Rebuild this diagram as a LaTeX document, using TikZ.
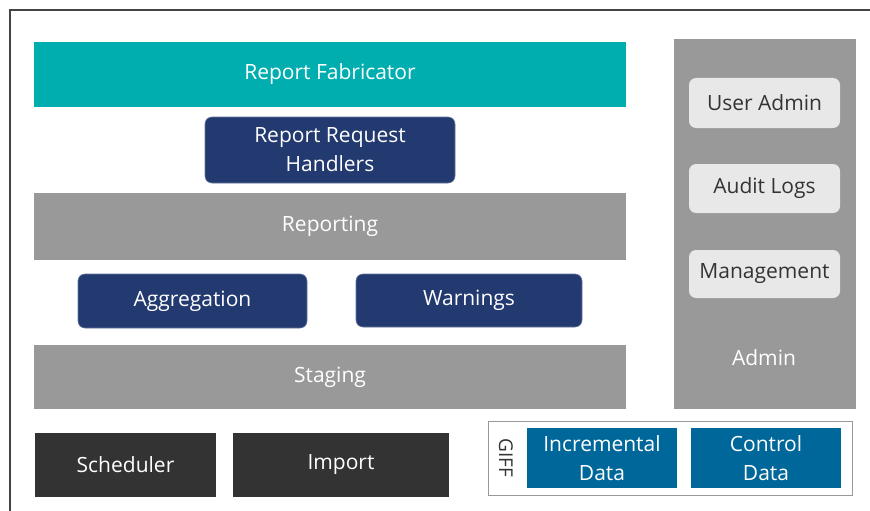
\documentclass[tikz,border=0pt]{standalone}
\usepackage{fontspec}
\setmainfont{Open Sans}
\usetikzlibrary{positioning}

\definecolor{fabteal}{HTML}{00AEB0}
\definecolor{handlerblue}{HTML}{233A70}
\definecolor{layergray}{HTML}{999999}
\definecolor{sysdark}{HTML}{333333}
\definecolor{giffblue}{HTML}{00679A}
\definecolor{adminlight}{HTML}{E8E8E8}
\definecolor{framegray}{HTML}{444444}

\begin{document}
\begin{tikzpicture}[x=1pt,y=-1pt,
  box/.style={inner sep=0pt,outer sep=0pt,align=center,text=white,font=\fontsize{21}{29}\selectfont},
  layer/.style={box,fill=layergray,minimum width=592pt},
  handler/.style={box,fill=handlerblue,rounded corners=7pt,draw=handlerblue!70!white,line width=0.6pt},
  sysbox/.style={box,fill=sysdark,minimum height=64pt},
  giffbox/.style={box,fill=giffblue,minimum width=150pt,minimum height=60pt},
  adminbox/.style={box,fill=adminlight,text=sysdark,rounded corners=7pt,minimum width=151pt}]
  \useasboundingbox (0,0) rectangle (870,511);
  % outer frame, runs off the right and bottom
  \draw[framegray,line width=2pt] (10,530) -- (10,10) -- (890,10);

  % reporting stack
  \node[layer,fill=fabteal,minimum height=65pt] (fab) at (330,74.5) {Report Fabricator};
  \node[handler,minimum width=250pt,minimum height=66pt] (rrh) at (330,150) {Report Request\\Handlers};
  \node[layer,minimum height=67pt] (reporting) at (330,226.5) {Reporting};
  \node[handler,minimum width=229pt,minimum height=54pt] (aggr) at (192.5,301) {Aggregation};
  \node[handler,minimum width=226pt,minimum height=53pt] (warn) at (469,300.5) {Warnings};
  \node[layer,minimum height=64pt] (staging) at (330,377) {Staging};

  % bottom row
  \node[sysbox,minimum width=181pt] (sched) at (125.5,465) {Scheduler};
  \node[sysbox,minimum width=216pt] (import) at (341,465) {Import};
  \node[draw=layergray,line width=1pt,minimum width=364pt,minimum height=74pt] (giff) at (670,458) {};
  \node[font=\fontsize{19}{22}\selectfont,text=sysdark,rotate=-90] (gifflbl) at (506,458) {GIFF};
  \node[giffbox] (incr) at (602,458) {Incremental\\Data};
  \node[giffbox] (ctrl) at (766,458) {Control\\Data};

  % admin column
  \node[box,fill=layergray,minimum width=182pt,minimum height=370pt] (admin) at (765,224) {};
  \node[adminbox,minimum height=50pt] (useradm) at (764.5,103) {User Admin};
  \node[adminbox,minimum height=49pt] (audit) at (764.5,188.5) {Audit Logs};
  \node[adminbox,minimum height=48pt] (mgmt) at (764.5,274) {Management};
  \node[box] (adminlbl) at (764,358) {Admin};
\end{tikzpicture}
\end{document}
